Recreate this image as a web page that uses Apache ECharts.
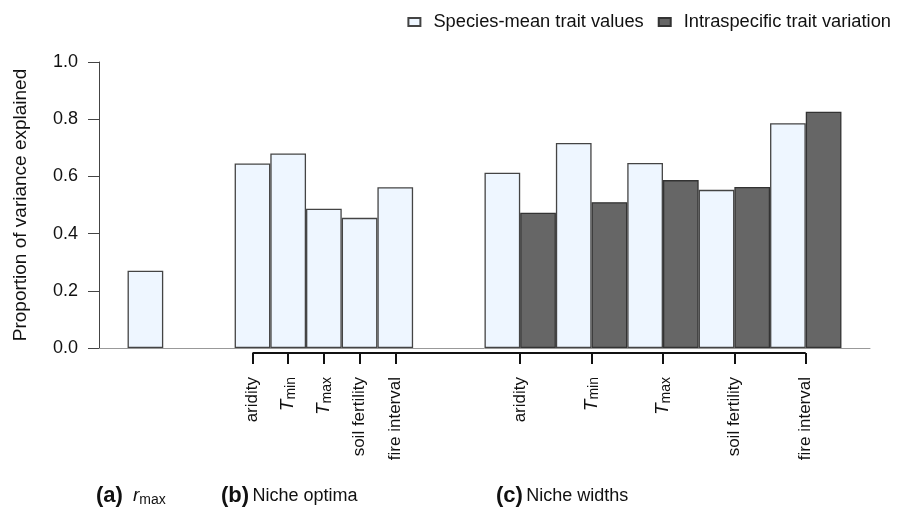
<!DOCTYPE html>
<html>
<head>
<meta charset="utf-8">
<script src="https://cdn.jsdelivr.net/npm/echarts@6/dist/echarts.min.js"></script>
<style>html,body{margin:0;padding:0;background:#fff}#c{width:900px;height:511px}</style>
</head>
<body>
<div id="c"></div>
<script>
// ---- data ----
const rmaxValue = [0.27];
const traitCats = ['aridity', 'Tmin', 'Tmax', 'soil fertility', 'fire interval'];
const optimaSM = [0.645, 0.68, 0.487, 0.455, 0.562];
const widthsSM = [0.613, 0.717, 0.647, 0.553, 0.786];
const widthsIV = [0.473, 0.51, 0.587, 0.563, 0.826];
const seriesNames = ['Species-mean trait values', 'Intraspecific trait variation'];
const yTicks = [0, 0.2, 0.4, 0.6, 0.8, 1.0];

// ---- layout (slot units; one slot = one bar width) ----
const START = 0.8, GAP = 2, XMAX = 21.6;
const aSlot = START;
const bSlot = aSlot + 1 + GAP;
const cSlot = bSlot + traitCats.length + GAP;

const smData = [], ivData = [], tickVals = [], tickLabels = {};
rmaxValue.forEach((v, i) => smData.push([aSlot + i + 0.5, v]));
optimaSM.forEach((v, i) => {
  const x = bSlot + i + 0.5;
  smData.push([x, v]);
  tickVals.push(x); tickLabels[x.toFixed(2)] = traitCats[i];
});
widthsSM.forEach((v, i) => {
  smData.push([cSlot + 2 * i + 0.5, v]);
  ivData.push([cSlot + 2 * i + 1.5, widthsIV[i]]);
  const x = cSlot + 2 * i + 1;
  tickVals.push(x); tickLabels[x.toFixed(2)] = traitCats[i];
});
const bracket = [[tickVals[0], 0], [tickVals[tickVals.length - 1], 0]];

const FONT = 'Liberation Sans';
const fmtCat = (name) => {
  if (name === 'Tmin') return '{t|T}{s|min}';
  if (name === 'Tmax') return '{t|T}{s|max}';
  return name;
};

const chart = echarts.init(document.getElementById('c'));
chart.setOption({
  animation: false,
  textStyle: { fontFamily: FONT },
  legend: {
    data: seriesNames,
    right: 4, top: 8,
    icon: 'rect', itemWidth: 12, itemHeight: 8, itemGap: 14,
    textStyle: { fontSize: 18.3, color: '#111', fontFamily: FONT, padding: [0, 0, 0, 8] }
  },
  grid: [
    { left: 99, right: 30, top: 62, height: 286 },
    { left: 99, right: 30, top: 340, height: 13 }
  ],
  xAxis: [
    { gridIndex: 0, type: 'value', min: 0, max: XMAX,
      axisLine: { show: true, onZero: false, lineStyle: { color: '#999', width: 1 } },
      axisTick: { show: false }, axisLabel: { show: false }, splitLine: { show: false } },
    { gridIndex: 1, type: 'value', min: 0, max: XMAX, position: 'bottom',
      axisLine: { show: false }, splitLine: { show: false },
      axisTick: { show: true, customValues: tickVals, length: 11, lineStyle: { color: '#111', width: 2 } },
      axisLabel: {
        show: true, customValues: tickVals, rotate: 90, margin: 24,
        fontSize: 17, color: '#111', fontFamily: FONT,
        formatter: (v) => fmtCat(tickLabels[Number(v).toFixed(2)] || ''),
        rich: {
          t: { fontSize: 19, fontStyle: 'italic', color: '#111', fontFamily: FONT },
          s: { fontSize: 14, color: '#111', fontFamily: FONT, verticalAlign: 'bottom', padding: [6, 0, 0, 0] }
        }
      } }
  ],
  yAxis: [
    { gridIndex: 0, type: 'value', min: 0, max: 1, interval: 0.2,
      name: 'Proportion of variance explained', nameLocation: 'middle', nameGap: 69,
      nameTextStyle: { fontSize: 19, color: '#111', fontFamily: FONT },
      axisLine: { show: true, lineStyle: { color: '#444', width: 1 } },
      axisTick: { show: true, length: 11, lineStyle: { color: '#444' } },
      axisLabel: { fontSize: 18, color: '#111', margin: 21, formatter: (v) => Number(v).toFixed(1) },
      splitLine: { show: false } },
    { gridIndex: 1, type: 'value', min: 0, max: 1, show: false }
  ],
  series: [
    { name: seriesNames[0], type: 'bar', xAxisIndex: 0, yAxisIndex: 0, data: smData,
      barWidth: 35.7, barGap: '-100%',
      itemStyle: { color: '#EEF6FF', borderColor: '#444', borderWidth: 1.3 } },
    { name: seriesNames[1], type: 'bar', xAxisIndex: 0, yAxisIndex: 0, data: ivData,
      barWidth: 35.7, barGap: '-100%',
      itemStyle: { color: '#666666', borderColor: '#333', borderWidth: 1.3 } },
    { name: 'bracket', type: 'line', xAxisIndex: 1, yAxisIndex: 1, data: bracket,
      symbol: 'none', clip: false, silent: true,
      lineStyle: { color: '#111', width: 2 } }
  ],
  graphic: [
    { type: 'text', left: 96, top: 485, style: {
      text: '{b|(a)}   {i|r}{s|max}', fill: '#111',
      rich: {
        b: { fontSize: 22, fontWeight: 'bold', fontFamily: FONT, fill: '#111' },
        i: { fontSize: 19, fontStyle: 'italic', fontFamily: FONT, fill: '#111' },
        s: { fontSize: 14, fontFamily: FONT, fill: '#111', verticalAlign: 'bottom', padding: [8, 0, 0, 0] }
      } } },
    { type: 'text', left: 221, top: 485, style: {
      text: '{b|(b)} {n|Niche optima}', fill: '#111',
      rich: {
        b: { fontSize: 22, fontWeight: 'bold', fontFamily: FONT, fill: '#111' },
        n: { fontSize: 18, fontFamily: FONT, fill: '#111' }
      } } },
    { type: 'text', left: 496, top: 485, style: {
      text: '{b|(c)} {n|Niche widths}', fill: '#111',
      rich: {
        b: { fontSize: 22, fontWeight: 'bold', fontFamily: FONT, fill: '#111' },
        n: { fontSize: 18, fontFamily: FONT, fill: '#111' }
      } } }
  ]
});
</script>
</body>
</html>
